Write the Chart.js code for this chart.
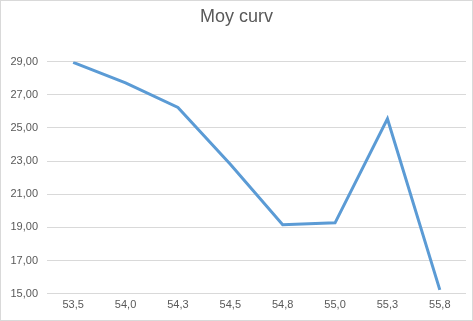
<!DOCTYPE html>
<html>
<head>
<meta charset="utf-8">
<script src="https://cdn.jsdelivr.net/npm/chart.js@4"></script>
<style>
  html, body { margin: 0; padding: 0; background: #fff; }
  #box { width: 473px; height: 321px; box-sizing: border-box; border: 1px solid #d9d9d9; }
</style>
</head>
<body>
<div id="box"><canvas id="line-chart"></canvas></div>
<script>
var xLabels = ["53,5", "54,0", "54,3", "54,5", "54,8", "55,0", "55,3", "55,8"];
var moyCurv = [28.95, 27.72, 26.24, 22.81, 19.16, 19.28, 25.55, 15.24];
var yMin = 15;
var yMax = 29;
var yStep = 2;

var grey = "#595959";
var fontName = "'Liberation Sans', Arial, sans-serif";

new Chart(document.getElementById("line-chart"), {
  type: 'line',
  data: {
    labels: xLabels,
    datasets: [
      {
        label: "Moy curv",
        data: moyCurv,
        borderColor: "#5b9bd5",
        backgroundColor: "#5b9bd5",
        borderWidth: 3,
        pointRadius: 0,
        tension: 0,
        fill: false
      }
    ]
  },
  options: {
    responsive: true,
    maintainAspectRatio: false,
    animation: false,
    layout: {
      padding: { left: 6, right: 6, top: 3, bottom: 3 }
    },
    plugins: {
      legend: { display: false },
      tooltip: { enabled: false },
      title: {
        display: true,
        text: 'Moy curv',
        color: grey,
        font: { family: fontName, size: 18, weight: 'normal' },
        padding: { top: 2, bottom: 34 }
      }
    },
    scales: {
      x: {
        offset: true,
        grid: { display: false, drawTicks: false },
        border: { display: false },
        ticks: {
          color: grey,
          font: { family: fontName, size: 11 },
          padding: 5,
          maxRotation: 0
        }
      },
      y: {
        min: yMin,
        max: yMax,
        grid: { color: "#d9d9d9", drawTicks: false },
        border: { display: false },
        ticks: {
          stepSize: yStep,
          color: grey,
          font: { family: fontName, size: 11 },
          padding: 9,
          callback: function (value) {
            return value.toFixed(2).replace('.', ',');
          }
        },
        afterFit: function (scale) { scale.width = 40; }
      }
    }
  }
});
</script>
</body>
</html>
